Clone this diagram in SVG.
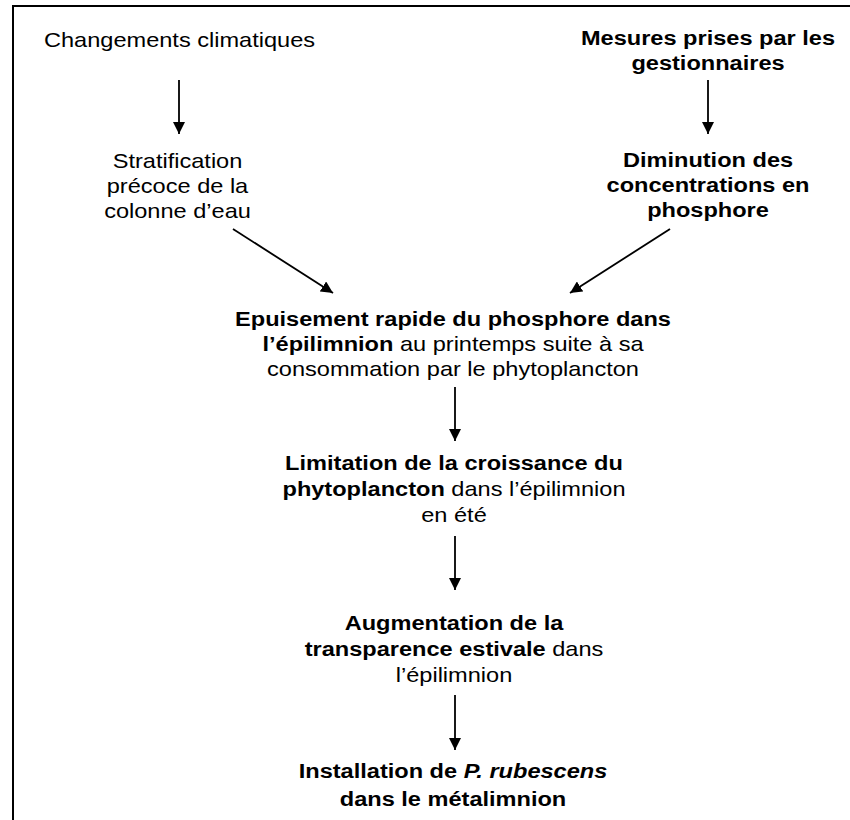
<svg xmlns="http://www.w3.org/2000/svg" width="850" height="820" viewBox="0 0 850 820">
<style>
text{font-family:"Liberation Sans",Arial,sans-serif;font-size:20.5px;fill:#000}
.c{text-anchor:middle}
.b{font-weight:bold}
.i{font-style:italic}
.ln{stroke:#000;stroke-width:1.8;fill:none}
</style>
<defs>
<marker id="ah" viewBox="0 0 12 12" refX="12" refY="6" markerWidth="12" markerHeight="12" markerUnits="userSpaceOnUse" orient="auto">
<path d="M0,0 L12,6 L0,12 Z" fill="#000"/>
</marker>
</defs>
<rect width="850" height="820" fill="#fff"/>
<path d="M13,820 V6 H850" stroke="#000" stroke-width="2" fill="none"/>
<g id="n-changements" transform="matrix(1.15,0,0,1,44,0)">
<text x="0" y="47">Changements climatiques</text>
</g>
<g id="n-mesures" transform="matrix(1.15,0,0,1,708,0)">
<text class="c b" x="0" y="45">Mesures prises par les</text>
<text class="c b" x="0" y="70">gestionnaires</text>
</g>
<g id="n-stratification" transform="matrix(1.15,0,0,1,177.5,0)">
<text class="c" x="0" y="168">Stratification</text>
<text class="c" x="0" y="193">précoce de la</text>
<text class="c" x="0" y="218">colonne d’eau</text>
</g>
<g id="n-diminution" transform="matrix(1.15,0,0,1,708,0)">
<text class="c b" x="0" y="167">Diminution des</text>
<text class="c b" x="0" y="192">concentrations en</text>
<text class="c b" x="0" y="217">phosphore</text>
</g>
<g id="n-epuisement" transform="matrix(1.15,0,0,1,453,0)">
<text class="c b" x="0" y="326">Epuisement rapide du phosphore dans</text>
<text class="c" x="0" y="351"><tspan class="b">l’épilimnion</tspan> au printemps suite à sa</text>
<text class="c" x="0" y="376">consommation par le phytoplancton</text>
</g>
<g id="n-limitation" transform="matrix(1.15,0,0,1,454,0)">
<text class="c b" x="0" y="470">Limitation de la croissance du</text>
<text class="c" x="0" y="496"><tspan class="b">phytoplancton</tspan> dans l’épilimnion</text>
<text class="c" x="0" y="522">en été</text>
</g>
<g id="n-augmentation" transform="matrix(1.15,0,0,1,454,0)">
<text class="c b" x="0" y="630">Augmentation de la</text>
<text class="c" x="0" y="656"><tspan class="b">transparence estivale</tspan> dans</text>
<text class="c" x="0" y="682">l’épilimnion</text>
</g>
<g id="n-installation" transform="matrix(1.15,0,0,1,453,0)">
<text class="c b" x="0" y="778">Installation de <tspan class="i">P. rubescens</tspan></text>
<text class="c b" x="0" y="806">dans le métalimnion</text>
</g>
<g id="connectors">
<line class="ln" x1="179" y1="80" x2="179" y2="134" marker-end="url(#ah)"/>
<line class="ln" x1="708" y1="80" x2="708" y2="134" marker-end="url(#ah)"/>
<line class="ln" x1="233" y1="229" x2="333" y2="293" marker-end="url(#ah)"/>
<line class="ln" x1="670" y1="229" x2="570" y2="293" marker-end="url(#ah)"/>
<line class="ln" x1="455" y1="387" x2="455" y2="441" marker-end="url(#ah)"/>
<line class="ln" x1="455" y1="536" x2="455" y2="590" marker-end="url(#ah)"/>
<line class="ln" x1="455" y1="695" x2="455" y2="750" marker-end="url(#ah)"/>
</g>
</svg>
